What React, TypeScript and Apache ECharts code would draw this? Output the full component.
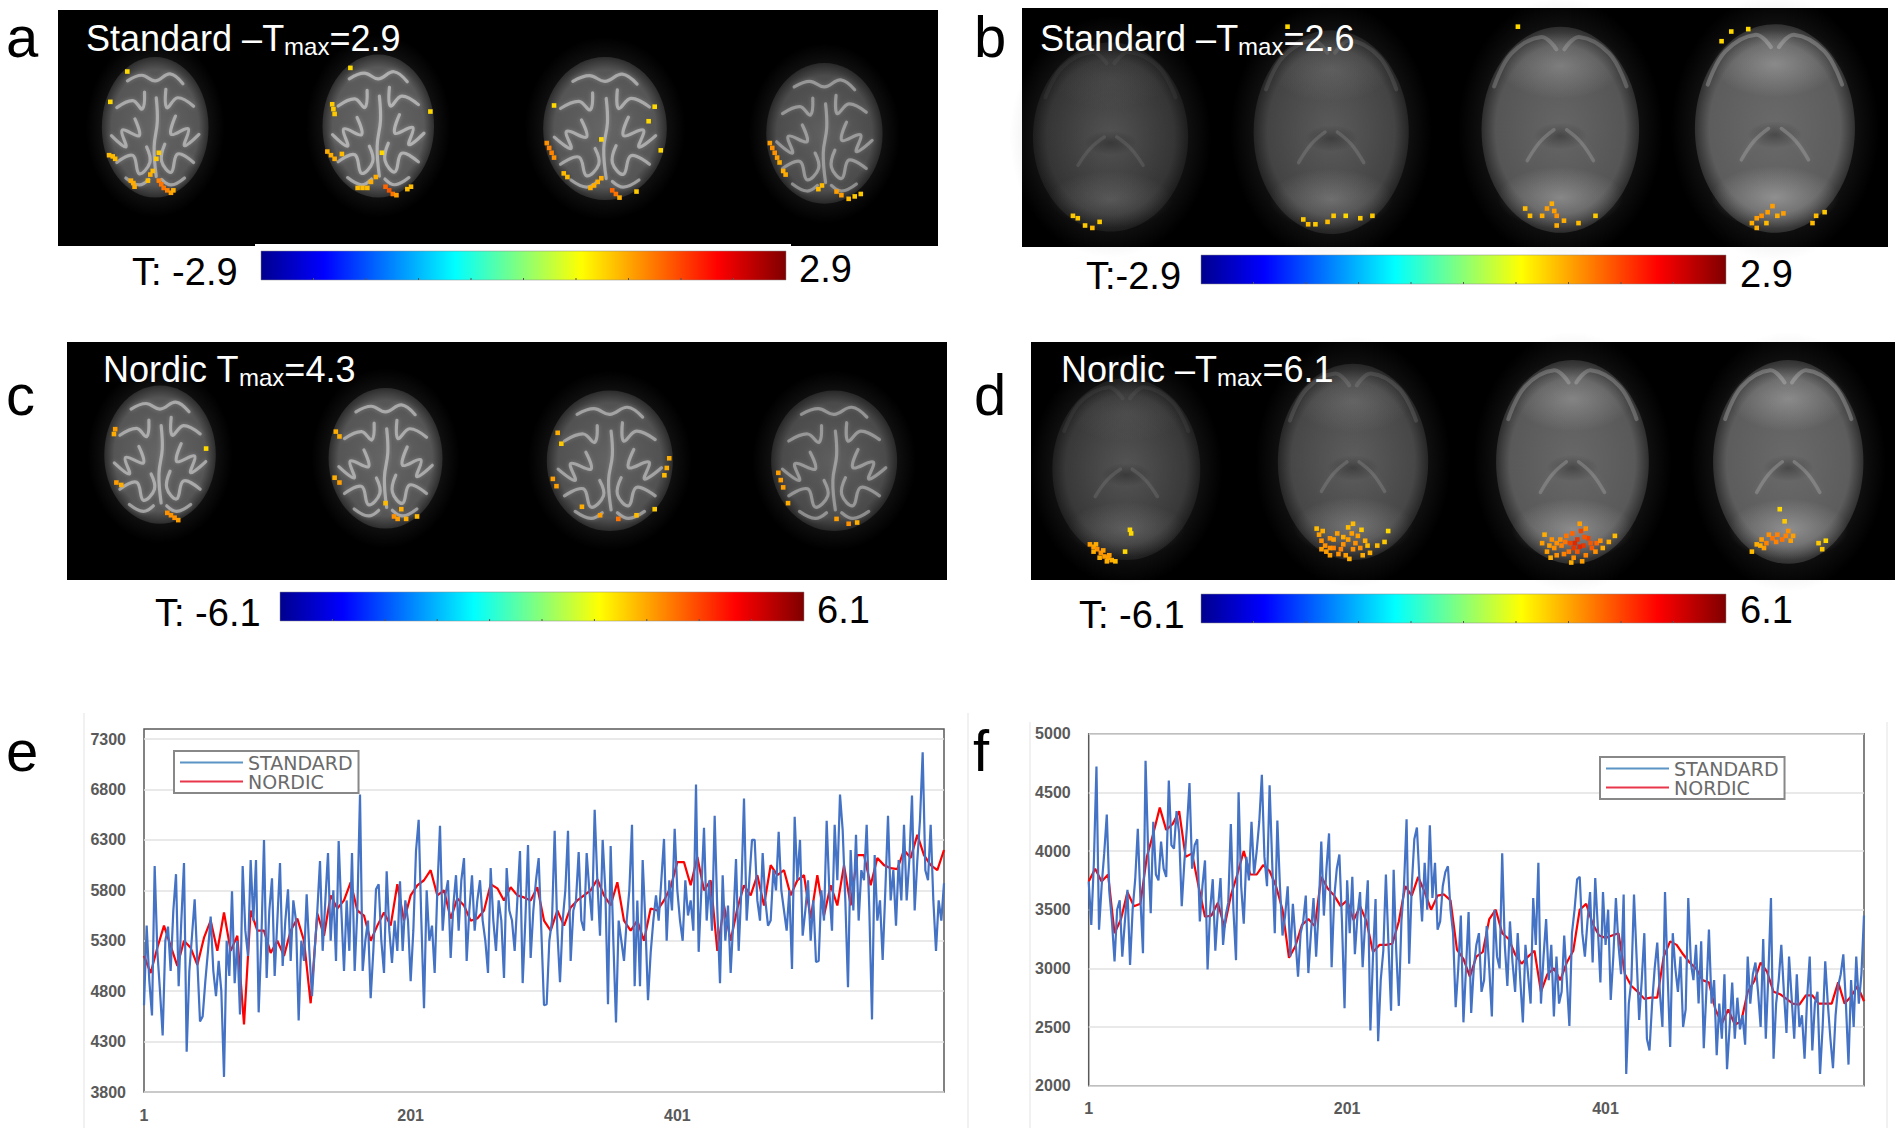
import React, { useEffect, useRef } from 'react';
import * as echarts from 'echarts';

// time series, STANDARD every 2nd sample, NORDIC every 5th
const sampleTicks = [1, 201, 401];
const ticksE = [3800, 4300, 4800, 5300, 5800, 6300, 6800, 7300];
const standardE = [
  4660, 5450, 4900, 4560, 6040, 5200, 4800, 4360, 5300, 5440, 5000, 5600, 5960, 4850, 5500, 6070, 4200, 5000, 5350, 5710,
  5100, 4500, 4550, 4900, 5200, 5540, 5000, 4750, 5100, 4800, 3950, 5300, 4950, 5790, 4880, 5300, 4570, 6040, 5400, 5150,
  6100, 5500, 6100, 4590, 5300, 6300, 4930, 5600, 5920, 4950, 5500, 6070, 5050, 5500, 5810, 5100, 5700, 5500, 4510, 5300,
  5100, 5760, 5200, 4750, 5200, 5600, 6090, 5200, 5700, 6170, 5300, 5800, 5100, 6290, 5600, 5000, 5700, 5200, 6170, 5000,
  5600, 6750, 5000, 5300, 5500, 4730, 5200, 5810, 5860, 5300, 4980, 5990, 5400, 5080, 5500, 5200, 5890, 5200, 5700, 5500,
  4900, 5400, 6190, 6500, 5500, 4630, 5800, 5300, 5450, 4980, 5800, 6440, 5400, 5750, 5900, 5130, 5650, 5950, 5400, 5900,
  6120, 5100, 5600, 5950, 5400, 5700, 5900, 5500, 5300, 4980, 6020, 5500, 5200, 5700, 5500, 4930, 6020, 5600, 5500, 5200,
  5700, 6190, 4880, 5500, 6250, 5130, 5600, 5900, 6120, 5400, 4660, 4670, 5300, 5500, 6390, 5400, 4890, 5500, 5800, 6390,
  5100, 5600, 5700, 6180, 5500, 5400, 6170, 5800, 5500, 6600, 5900, 5350, 6300, 5800, 4670, 6240, 5300, 4490, 5500, 5300,
  5100, 5500, 5800, 6450, 4850, 5700, 4850, 6100, 5500, 4710, 5180, 5500, 5750, 5500, 5900, 6310, 5300, 5900, 5600, 6410,
  5800, 5500, 5300, 5900, 5550, 5700, 5400, 6850, 5190, 5800, 6420, 5500, 5900, 5400, 6540, 5600, 4880, 5950, 5300, 5650,
  4980, 5500, 6110, 5200, 5800, 6710, 5500, 5900, 6300, 6300, 5700, 5500, 6170, 5700, 5450, 5500, 6000, 5800, 6380, 5800,
  5600, 5400, 5800, 5020, 6530, 5900, 6300, 5350, 5600, 5900, 5300, 5700, 5090, 5100, 5800, 5500, 6490, 5800, 5400, 6450,
  5900, 6750, 6400, 5700, 4840, 6200, 5600, 6350, 5500, 6000, 5900, 6450, 5600, 4520, 6150, 5500, 5700, 5110, 5800, 6540,
  5700, 6000, 5450, 6100, 5700, 6450, 5700, 6100, 6740, 5600, 6100, 6500, 7170, 6000, 5900, 6450, 5700, 5200, 5700, 5500,
  5870,
];
const nordicE = [
  5150, 4980, 5230, 5450, 5250, 5050, 5300, 5230, 5060, 5330, 5500, 5200, 5580, 5200, 5350, 4470, 5600, 5400, 5400, 5180,
  5300, 5150, 5400, 5520, 5300, 4680, 5570, 5350, 5750, 5620, 5700, 5880, 5600, 5550, 5300, 5450, 5580, 5450, 5860, 5500,
  5750, 5850, 5900, 6000, 5750, 5800, 5520, 5720, 5650, 5500, 5520, 5600, 5860, 5820, 5700, 5830, 5750, 5730, 5700, 5830,
  5500, 5400, 5600, 5450, 5630, 5700, 5750, 5800, 5910, 5750, 5650, 5880, 5500, 5400, 5500, 5300, 5620, 5600, 5700, 5830,
  6080, 6080, 5850, 6130, 5800, 5900, 5200, 5650, 5300, 5620, 5850, 5750, 5950, 5650, 6050, 5950, 6000, 5750, 5900, 5950,
  5520, 5950, 5550, 5850, 5650, 6050, 5650, 6150, 6150, 5850, 6120, 6050, 6020, 6010, 6200, 6120, 6350, 6150, 6050, 6000,
  6200,
];
const ticksF = [2000, 2500, 3000, 3500, 4000, 4500, 5000];
const standardF = [
  3740, 3370, 3900, 4720, 3330, 3700, 3980, 4310, 3650, 3400, 3060, 3500, 3580, 3100, 3400, 3670, 3030, 3500, 3760, 4190,
  3600, 3130, 4770, 4000, 3470, 4250, 3800, 3750, 4080, 3850, 3780, 4600, 4050, 4020, 4340, 4150, 3530, 3900, 4200, 4580,
  3850, 4050, 4100, 3400, 3700, 3920, 2990, 3500, 3760, 3150, 3500, 3770, 3200, 3450, 3560, 4230, 3500, 3070, 4500, 3700,
  3380, 3950, 3750, 4250, 3800, 4000, 4250, 4650, 3950, 3700, 4560, 3900, 3300, 4260, 3700, 3280, 3450, 3700, 3100, 3550,
  3250, 2930, 3300, 3400, 3620, 2960, 3300, 3600, 3100, 3500, 4080, 3450, 3850, 4150, 3010, 3600, 3850, 3970, 3400, 2660,
  3750, 3300, 3780, 3120, 3450, 3650, 3010, 3400, 3750, 2470, 3100, 3590, 2380, 2900, 3150, 3800, 3200, 2640, 3840, 3150,
  2680, 3400, 3700, 4270, 3040, 3700, 4100, 4200, 3750, 3400, 3900, 3500, 4220, 3600, 3900, 3330, 3400, 3700, 3820, 3870,
  3500, 3300, 2670, 3000, 3450, 2540, 3000, 3480, 2620, 3000, 3200, 3300, 2800, 2900, 3360, 3000, 2590, 3500, 3100, 3000,
  3980, 3200, 2850, 3400, 3050, 2800, 3300, 2900, 2540, 3200, 2950, 2700, 3600, 3200, 3900, 2700, 3100, 3420, 2900, 3200,
  2590, 3100, 2700, 2800, 3280, 2900, 2510, 3300, 3500, 3760, 3780, 3300, 3100, 3400, 3650, 3050, 3770, 3350, 2880, 3650,
  3200, 3500, 2730, 3100, 3600, 3200, 2950, 3630, 2100, 2700, 2900, 3630, 3100, 2560, 2900, 3300, 2400, 2300, 2700, 3000,
  3220, 2800, 2500, 3650, 2950, 2330, 3300, 3000, 2800, 3100, 2500, 2650, 3600, 3050, 2900, 3200, 2700, 3230, 2320, 2800,
  3330, 2700, 2900, 2260, 2700, 2400, 2950, 2140, 2500, 2880, 2400, 2750, 2480, 2600, 2350, 3100, 2700, 2950, 3050, 2800,
  2500, 3250, 2400, 2950, 3600, 2230, 2700, 2900, 3200, 2800, 2450, 3100, 2750, 2400, 2950, 2500, 2600, 2230, 2750, 3100,
  2300, 2700, 2800, 2100, 2500, 3060, 2700, 2400, 2150, 2600, 2850, 2950, 3120, 2700, 2180, 2900, 2500, 3100, 2700, 2950,
  3450,
];
const nordicF = [
  3740, 3850, 3740, 3800, 3300, 3420, 3650, 3530, 3550, 3950, 4150, 4370, 4180, 4230, 4340, 3950, 3980, 3700, 3440, 3450,
  3560, 3350, 3620, 3800, 4000, 3800, 3800, 3880, 3830, 3700, 3500, 3090, 3190, 3370, 3420, 3360, 3780, 3680, 3620, 3530,
  3580, 3410, 3530, 3400, 3140, 3200, 3200, 3210, 3400, 3700, 3620, 3780, 3650, 3500, 3620, 3630, 3580, 3160, 3080, 2930,
  3100, 3140, 3420, 3500, 3300, 3250, 3120, 3040, 3100, 3150, 2800, 2950, 3000, 2900, 3050, 3150, 3500, 3550, 3380, 3280,
  3260, 3280, 3300, 2950, 2850, 2800, 2740, 2750, 2750, 3100, 3230, 3200, 3120, 3050, 3000, 2900, 2880, 2650, 2530, 2650,
  2520, 2550, 2800, 2890, 3050, 2970, 2800, 2780, 2740, 2700, 2690, 2770, 2770, 2700, 2700, 2700, 2880, 2700, 2760, 2850,
  2720,
];

// active voxels of the four T maps: x, y in the picture's 1568-wide frame, T as a share of the colour scale
const voxelsA = [
  [105, 59, 0.3], [91, 84, 0.3], [90, 128, 0.4], [93, 129, 0.4], [95, 131, 0.4], [131, 126, 0.35], [129, 131, 0.35],
  [108, 149, 0.45], [110, 151, 0.45], [111, 154, 0.45], [122, 149, 0.4], [124, 144, 0.45], [126, 141, 0.4],
  [131, 149, 0.6], [133, 152, 0.65], [135, 155, 0.65], [138, 157, 0.6], [141, 159, 0.5], [143, 157, 0.45],
  [289, 56, 0.3], [274, 86, 0.35], [275, 90, 0.35], [276, 94, 0.35], [355, 92, 0.3], [270, 125, 0.45], [273, 128, 0.45],
  [276, 131, 0.45], [282, 127, 0.4], [315, 126, 0.3], [295, 155, 0.4], [299, 155, 0.4], [303, 155, 0.4], [306, 150, 0.45],
  [310, 146, 0.45], [318, 154, 0.7], [321, 157, 0.75], [324, 160, 0.65], [327, 161, 0.5], [336, 156, 0.4], [339, 154, 0.4],
  [457, 87, 0.3], [540, 88, 0.3], [535, 100, 0.3], [451, 118, 0.55], [453, 122, 0.6], [455, 126, 0.6], [457, 130, 0.55],
  [465, 143, 0.4], [468, 146, 0.4], [487, 155, 0.45], [490, 153, 0.45], [493, 150, 0.45], [496, 147, 0.45], [505, 157, 0.7],
  [508, 160, 0.65], [511, 163, 0.45], [525, 158, 0.35], [545, 124, 0.3], [496, 115, 0.3],
  [635, 118, 0.5], [637, 122, 0.55], [639, 126, 0.55], [641, 130, 0.5], [643, 134, 0.45], [646, 141, 0.45], [648, 144, 0.45],
  [675, 156, 0.4], [678, 153, 0.4], [690, 158, 0.5], [694, 161, 0.5], [700, 164, 0.4], [705, 162, 0.35], [710, 160, 0.35],
];
const voxelsB = [
  [885, 178, 0.35], [889, 180, 0.35], [907, 183, 0.35], [895, 186, 0.35], [901, 188, 0.4], [1075, 181, 0.35], [1079, 185, 0.4],
  [1085, 185, 0.35], [1095, 183, 0.4], [1100, 178, 0.35], [1110, 178, 0.3], [1122, 180, 0.35], [1132, 178, 0.35], [1062, 22, 0.3],
  [1252, 22, 0.3], [1258, 172, 0.4], [1262, 178, 0.4], [1272, 178, 0.45], [1276, 172, 0.5], [1280, 168, 0.45], [1284, 178, 0.55],
  [1284, 186, 0.45], [1290, 182, 0.45], [1282, 174, 0.5], [1302, 184, 0.4], [1316, 178, 0.35], [1428, 26, 0.3], [1442, 24, 0.3],
  [1420, 34, 0.3], [1445, 184, 0.45], [1449, 180, 0.5], [1453, 178, 0.55], [1458, 175, 0.5], [1462, 170, 0.5], [1466, 178, 0.45],
  [1471, 176, 0.5], [1449, 188, 0.45], [1457, 184, 0.4], [1498, 178, 0.4], [1495, 184, 0.4], [1505, 175, 0.35],
];
const voxelsC = [
  [95, 354, 0.5], [94, 358, 0.45], [96, 398, 0.5], [100, 400, 0.45], [138, 423, 0.55], [141, 425, 0.55], [144, 427, 0.55],
  [147, 429, 0.5], [170, 370, 0.3], [277, 356, 0.45], [280, 360, 0.45], [276, 394, 0.45], [280, 398, 0.5], [318, 415, 0.4],
  [325, 426, 0.55], [328, 428, 0.5], [335, 428, 0.45], [344, 426, 0.4], [331, 420, 0.45], [460, 357, 0.45], [463, 366, 0.35],
  [456, 395, 0.5], [459, 401, 0.5], [552, 378, 0.45], [550, 386, 0.45], [548, 392, 0.4], [480, 418, 0.45], [495, 425, 0.5],
  [510, 428, 0.65], [525, 425, 0.4], [540, 420, 0.35], [642, 390, 0.5], [644, 396, 0.5], [646, 402, 0.5], [650, 415, 0.45],
  [690, 428, 0.5], [700, 432, 0.55], [707, 431, 0.45],
];
const voxelsD = [
  [899, 449, 0.5], [902, 451, 0.5], [905, 453, 0.55], [908, 456, 0.55], [911, 459, 0.5], [914, 460, 0.5], [917, 462, 0.45],
  [920, 463, 0.4], [904, 449, 0.45], [910, 454, 0.5], [915, 458, 0.5], [932, 437, 0.3], [933, 440, 0.3], [928, 455, 0.3],
  [902, 455, 0.45], [907, 460, 0.45], [913, 463, 0.45],
  [1088, 441, 0.5], [1090, 446, 0.55], [1093, 450, 0.55], [1097, 444, 0.55], [1100, 452, 0.6], [1104, 457, 0.55], [1108, 449, 0.55],
  [1112, 445, 0.5], [1115, 440, 0.5], [1118, 448, 0.55], [1122, 452, 0.55], [1126, 446, 0.45], [1130, 456, 0.45], [1136, 450, 0.4],
  [1142, 447, 0.35], [1145, 438, 0.3], [1097, 458, 0.5], [1112, 435, 0.4], [1116, 432, 0.4], [1123, 437, 0.35], [1113, 461, 0.45],
  [1086, 436, 0.4], [1091, 438, 0.45], [1094, 455, 0.5], [1100, 445, 0.5], [1103, 440, 0.5], [1106, 453, 0.6], [1110, 458, 0.5],
  [1116, 453, 0.55], [1120, 442, 0.5], [1124, 458, 0.45], [1128, 450, 0.4], [1090, 453, 0.5], [1097, 452, 0.55], [1108, 443, 0.45],
  [1272, 448, 0.5], [1276, 455, 0.5], [1280, 445, 0.55], [1284, 458, 0.55], [1288, 450, 0.6], [1292, 442, 0.65], [1295, 448, 0.8],
  [1298, 452, 0.85], [1301, 445, 0.85], [1304, 438, 0.8], [1306, 450, 0.85], [1310, 444, 0.8], [1313, 452, 0.75], [1317, 448, 0.7],
  [1298, 460, 0.55], [1305, 463, 0.5], [1322, 452, 0.45], [1327, 447, 0.45], [1332, 442, 0.4], [1303, 432, 0.5], [1282, 452, 0.55],
  [1290, 457, 0.6], [1308, 458, 0.6], [1274, 441, 0.45], [1278, 450, 0.5], [1284, 448, 0.55], [1291, 447, 0.65], [1297, 440, 0.7],
  [1299, 448, 0.9], [1303, 451, 0.9], [1301, 455, 0.75], [1307, 443, 0.75], [1312, 448, 0.75], [1316, 455, 0.55], [1294, 455, 0.65],
  [1287, 445, 0.55], [1308, 436, 0.55], [1320, 446, 0.55], [1279, 460, 0.45], [1296, 464, 0.45],
  [1445, 455, 0.4], [1449, 449, 0.45], [1453, 445, 0.5], [1457, 448, 0.6], [1462, 444, 0.65], [1466, 441, 0.6], [1470, 445, 0.65],
  [1475, 438, 0.55], [1479, 442, 0.5], [1472, 430, 0.35], [1468, 420, 0.3], [1500, 448, 0.35], [1503, 453, 0.35], [1455, 452, 0.5],
  [1459, 441, 0.55], [1465, 447, 0.6], [1473, 442, 0.6], [1477, 446, 0.5], [1452, 450, 0.45], [1506, 446, 0.3],
];

// [x, y, half width, half height, brightness] of each slice in the 1568-wide frame
const slicesTop = [
  [128, 105, 44, 58, 0.85], [312, 104, 46, 59, 0.9], [499, 106, 51, 59, 0.85], [680, 110, 48, 58, 0.72],
  [132, 375, 46, 57, 0.85], [318, 378, 47, 58, 0.85], [503, 380, 52, 58, 0.8], [688, 380, 52, 58, 0.7],
];
const slicesLow = [
  [916, 113, 64, 78, 0.4], [1098, 109, 64, 84, 0.6], [1287, 107, 65, 85, 0.85], [1464, 106, 66, 86, 0.95],
  [929, 387, 61, 75, 0.45], [1116, 381, 62, 81, 0.65], [1297, 381, 63, 84, 0.9], [1475, 381, 62, 84, 0.95],
];

const gyri = [
  [[-0.82, 0.12], [-0.55, 0.28], [-0.62, 0.04], [-0.3, 0.12], [-0.38, -0.12]],
  [[0.82, 0.1], [0.55, 0.26], [0.62, 0.02], [0.3, 0.1], [0.38, -0.16]],
  [[-0.72, -0.28], [-0.42, -0.38], [-0.24, -0.26], [-0.2, -0.5]],
  [[0.72, -0.3], [0.42, -0.42], [0.22, -0.28], [0.2, -0.54]],
  [[-0.72, 0.5], [-0.42, 0.4], [-0.3, 0.66], [-0.1, 0.5], [-0.16, 0.28]],
  [[0.72, 0.5], [0.42, 0.38], [0.3, 0.64], [0.12, 0.48], [0.18, 0.24]],
  [[0.02, -0.42], [0.04, -0.08], [-0.02, 0.28], [0.02, 0.7]],
  [[-0.52, -0.66], [-0.25, -0.74], [0, -0.66], [0.28, -0.76], [0.52, -0.62]],
  [[-0.55, 0.72], [-0.3, 0.82], [-0.12, 0.74]],
  [[0.55, 0.72], [0.3, 0.82], [0.12, 0.74]],
];

const jet = [
  [0, '#00008f'], [0.12, '#0000ff'], [0.37, '#00ffff'], [0.61, '#ffff00'], [0.87, '#ff0000'], [1, '#7f0000'],
];
const K = 1901 / 1568;
const NUM_FONT = '"Liberation Sans"';
const TICK_FONT = '"Liberation Sans"';

const line = (x1: number, y1: number, x2: number, y2: number, stroke: string, lineWidth = 1) => ({
  type: 'line', shape: { x1, y1, x2, y2 }, style: { stroke, lineWidth }, silent: true,
});

const blackBox = (x1: number, y1: number, x2: number, y2: number) => ({
  type: 'rect', shape: { x: x1, y: y1, width: x2 - x1, height: y2 - y1 }, style: { fill: '#000' },
});

const label = (text: string, x: number, y: number, fontSize = 38) => ({
  type: 'text', x, y, style: { text, fontSize, fontFamily: NUM_FONT, fill: '#000', verticalAlign: 'middle' },
});

const letter = (text: string, x: number, y: number) => ({
  type: 'text', x, y, style: { text, fontSize: 58, fontFamily: NUM_FONT, fill: '#000', verticalAlign: 'middle' },
});

const heading = (before: string, after: string, x: number, y: number) => ({
  type: 'text', x, y,
  style: {
    text: `{n|${before}}{s|max}{n|${after}}`,
    fontFamily: NUM_FONT, fill: '#fff', verticalAlign: 'middle',
    rich: {
      n: { fontSize: 36, fontFamily: NUM_FONT, fill: '#fff', lineHeight: 44 },
      s: { fontSize: 24, fontFamily: NUM_FONT, fill: '#fff', lineHeight: 44, padding: [16, 0, 0, 0] },
    },
  },
});

const colourBar = (x1: number, y1: number, x2: number, y2: number) => {
  const width = x2 - x1;
  const els: any[] = [{
    type: 'rect', shape: { x: x1, y: y1, width, height: y2 - y1 },
    style: {
      fill: new echarts.graphic.LinearGradient(0, 0, 1, 0, jet.map(([offset, color]) => ({ offset, color })) as any),
      stroke: '#8a8a8a', lineWidth: 0.5,
    },
  }];
  for (let i = 1; i < 10; i++) {
    els.push(line(x1 + (width * i) / 10, y2 - 2, x1 + (width * i) / 10, y2, '#555', 1));
  }
  return els;
};

const glow = (cx: number, cy: number, rx: number, ry: number, rgb: string, alpha: number) => ({
  type: 'ellipse',
  shape: { cx: cx * K, cy: cy * K, rx: rx * K, ry: ry * K },
  style: {
    fill: new echarts.graphic.RadialGradient(0.5, 0.5, 0.5, [
      { offset: 0, color: `rgba(${rgb},${alpha})` },
      { offset: 1, color: `rgba(${rgb},0)` },
    ]),
  },
});

const halo = (s: number[]) => {
  const [x, y, a, b, v] = s;
  return [
    glow(x, y, a * 1.3, b * 1.28, '120,120,120', 0.55),
    {
      type: 'ellipse', shape: { cx: x * K, cy: y * K, rx: a * K, ry: b * K },
      style: {
        fill: new echarts.graphic.RadialGradient(0.5, 0.5, 0.5, [
          { offset: 0, color: `rgba(108,108,108,${v})` },
          { offset: 0.82, color: `rgba(96,96,96,${v})` },
          { offset: 1, color: `rgba(50,50,50,${v})` },
        ]),
      },
    },
  ];
};

const stroke = (s: number[], pts: number[][], color: string, lineWidth: number, blur = 4) => ({
  type: 'polyline',
  shape: { points: pts.map(([u, w]) => [(s[0] + u * s[2]) * K, (s[1] + w * s[3]) * K]), smooth: 0.4 },
  style: { stroke: color, lineWidth, fill: 'none', shadowBlur: blur, shadowColor: color, lineCap: 'round', lineJoin: 'round' },
});

const topSlice = (s: number[]) => [
  ...halo(s),
  ...gyri.map((g) => stroke(s, g, `rgba(230,230,230,${0.6 * s[4]})`, 3.2)),
];

const lowSlice = (s: number[]) => {
  const v = s[4];
  return [
    ...halo(s),
    glow(s[0], s[1] + s[3] * 0.66, s[2] * 0.8, s[3] * 0.3, '180,180,180', v * 0.6),
    glow(s[0], s[1] - s[3] * 0.62, s[2] * 0.78, s[3] * 0.32, '190,190,190', v * v * 0.5),
    glow(s[0], s[1] + s[3] * 0.06, s[2] * 0.34, s[3] * 0.13, '0,0,0', 0.3),
    stroke(s, [[-0.84, -0.42], [-0.62, -0.74], [-0.24, -0.9], [-0.05, -0.78]], `rgba(225,225,225,${v * v * 0.3})`, 4, 7),
    stroke(s, [[0.84, -0.42], [0.62, -0.74], [0.24, -0.9], [0.05, -0.78]], `rgba(225,225,225,${v * v * 0.3})`, 4, 7),
    stroke(s, [[-0.42, 0.3], [-0.26, 0.12], [-0.08, 0]], `rgba(190,190,190,${0.32 * v})`, 3.5, 5),
    stroke(s, [[0.42, 0.3], [0.26, 0.12], [0.08, 0]], `rgba(190,190,190,${0.32 * v})`, 3.5, 5),
  ];
};

const App: React.FC = () => {
  const chartRef = useRef<HTMLDivElement>(null);

  useEffect(() => {
    if (!chartRef.current) return;
    const chart = echarts.init(chartRef.current, undefined, { renderer: 'svg' });

    const xAt = (values: number[]) => values.map((v, i) => [1 + (i * 600) / (values.length - 1), v]);

    const timeXAxis = (gridIndex: number) => ({
      type: 'value', gridIndex, min: 1, max: 601,
      axisLine: { show: false }, splitLine: { show: false },
      axisTick: { show: false, customValues: sampleTicks },
      axisLabel: {
        customValues: sampleTicks, margin: 15, color: '#595959', fontSize: 16, fontWeight: 'bold', fontFamily: TICK_FONT,
        formatter: (v: number) => String(v),
      },
    });
    const timeYAxis = (gridIndex: number, ticks: number[], max: number) => ({
      type: 'value', gridIndex, min: ticks[0], max,
      axisLine: { show: false },
      axisTick: { show: false, customValues: ticks },
      splitLine: { show: true, lineStyle: { color: '#e2e2e2', width: 1.5 } },
      axisLabel: {
        customValues: ticks, margin: 18, color: '#595959', fontSize: 16, fontWeight: 'bold', fontFamily: TICK_FONT,
        formatter: (v: number) => String(v),
      },
    });
    const legend = (left: number, top: number) => ({
      data: [
        { name: 'STANDARD', itemStyle: { color: '#5b94c5' } },
        { name: 'NORDIC', itemStyle: { color: '#e8374a' } },
      ],
      orient: 'vertical', left, top, icon: 'rect', itemWidth: 63, itemHeight: 2, itemGap: 0,
      padding: [2, 6, 2, 6], backgroundColor: '#fff', borderColor: '#888', borderWidth: 2,
      textStyle: { color: '#6a6a6a', fontSize: 19, fontFamily: '"DejaVu Sans"' },
      selectedMode: false,
    });
    const lineSeries = (name: string, values: number[], axis: number, color: string, width: number) => ({
      name, type: 'line', data: xAt(values), xAxisIndex: axis, yAxisIndex: axis,
      showSymbol: false, lineStyle: { color, width }, itemStyle: { color }, silent: true,
    });
    const voxelSeries = (data: number[][]) => ({
      type: 'scatter', data, xAxisIndex: 2, yAxisIndex: 2, symbol: 'rect', symbolSize: 4.6, silent: true,
      itemStyle: { opacity: 1 },
    });

    const graphics: any[] = [
      blackBox(58, 10, 938, 246),
      blackBox(1022, 8, 1888, 247),
      blackBox(67, 342, 947, 580),
      blackBox(1031, 342, 1895, 580),
      { type: 'rect', shape: { x: 255, y: 244, width: 536, height: 4 }, style: { fill: '#fff' } },
      ...slicesTop.flatMap(topSlice),
      ...slicesLow.flatMap(lowSlice),
      ...colourBar(261, 251, 786, 280),
      ...colourBar(1201, 255, 1726, 284),
      ...colourBar(280, 592, 804, 621),
      ...colourBar(1201, 594, 1726, 623),
      heading('Standard –T', '=2.9', 86, 38),
      heading('Standard –T', '=2.6', 1040, 38),
      heading('Nordic T', '=4.3', 103, 369),
      heading('Nordic –T', '=6.1', 1061, 369),
      label('T: -2.9', 132, 272), label('2.9', 799, 269),
      label('T:-2.9', 1086, 276), label('2.9', 1740, 274),
      label('T: -6.1', 155, 613), label('6.1', 817, 610),
      label('T: -6.1', 1079, 615), label('6.1', 1740, 610),
      letter('a', 6, 36), letter('b', 974, 36),
      letter('c', 6, 394), letter('d', 974, 394),
      letter('e', 6, 750), letter('f', 973, 750),
      line(84, 713, 84, 1128, '#ececec', 1.5),
      line(968, 713, 968, 1128, '#ececec', 1.5),
      line(1030, 722, 1030, 1128, '#ececec', 1.5),
      line(1887, 722, 1887, 1128, '#ececec', 1.5),
    ];

    chart.setOption({
      animation: false,
      backgroundColor: '#fff',
      graphic: { elements: graphics },
      legend: [legend(174, 751), legend(1600, 757)],
      grid: [
        { left: 144, top: 729, width: 800, height: 363, show: true, borderColor: '#595959', borderWidth: 1.5, containLabel: false },
        { left: 1088.7, top: 733.7, width: 775.3, height: 352, show: true, borderColor: '#595959', borderWidth: 1.5, containLabel: false },
        { left: 0, top: 0, width: 1901, height: 1134, show: false },
      ],
      xAxis: [
        timeXAxis(0),
        timeXAxis(1),
        { type: 'value', gridIndex: 2, min: 0, max: 1568, show: false },
      ],
      yAxis: [
        timeYAxis(0, ticksE, 7400),
        timeYAxis(1, ticksF, 5000),
        { type: 'value', gridIndex: 2, min: 0, max: 1134 / K, inverse: true, show: false },
      ],
      visualMap: {
        show: false, type: 'continuous', min: 0.25, max: 0.9, dimension: 2, seriesIndex: [4, 5, 6, 7],
        inRange: { color: ['#ffe600', '#ffa800', '#ff6a00', '#e02800'] },
      },
      series: [
        lineSeries('NORDIC', nordicE, 0, '#ff0000', 2.2),
        lineSeries('STANDARD', standardE, 0, '#4472c4', 2.2),
        lineSeries('NORDIC', nordicF, 1, '#ff0000', 2.2),
        lineSeries('STANDARD', standardF, 1, '#4472c4', 2.2),
        voxelSeries(voxelsA),
        voxelSeries(voxelsB),
        voxelSeries(voxelsC),
        voxelSeries(voxelsD),
      ],
    });

    return () => {
      chart.dispose();
    };
  }, []);

  return <div ref={chartRef} style={{ position: 'absolute', left: 0, top: 0, width: 1901, height: 1134 }} />;
};

export default App;
